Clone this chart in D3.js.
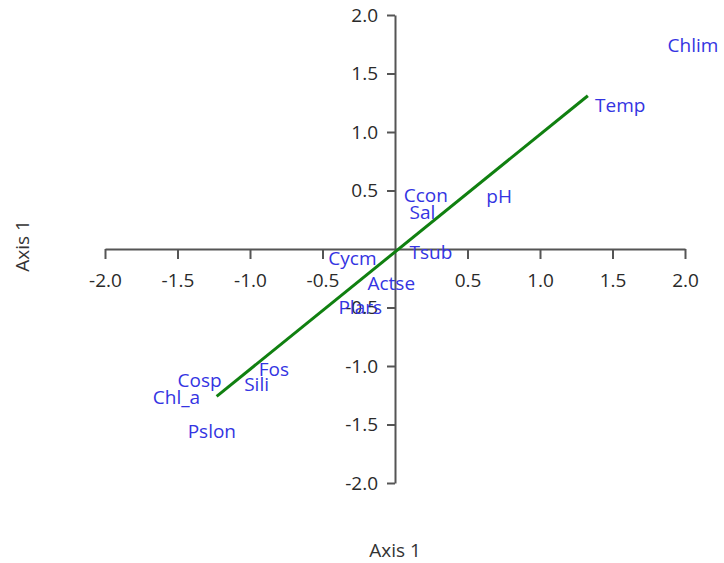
<!DOCTYPE html>
<html lang="en">
<head>
    <meta charset="UTF-8">
    <title>Biplot - Axis 1</title>
    <style>
        body { margin: 0; background: #fff; }
        .tick text { font-family: "Open Sans", sans-serif; font-size: 19px; fill: #2a2a2a; }
        .tick line, .domain { stroke: #555; stroke-width: 2px; }
        .lbl { font-family: "Open Sans", sans-serif; font-size: 19px; fill: #3434e2; }
        .title { font-family: "Open Sans", sans-serif; font-size: 19px; fill: #333; }
    </style>
</head>
<body>
    <script src="https://cdn.jsdelivr.net/npm/d3@7"></script>
    <script type="text/javascript">
        // variable labels and their positions (axis units)
        var names = ["Chlim", "Temp", "Ccon", "pH", "Sal", "Tsub", "Cycm", "Actse", "Plars", "Fos", "Cosp", "Sili", "Chl_a", "Pslon"];
        var xs = [1.88, 1.38, 0.06, 0.63, 0.10, 0.10, -0.46, -0.19, -0.39, -0.94, -1.50, -1.04, -1.67, -1.43];
        var ys = [1.74, 1.23, 0.46, 0.45, 0.31, -0.03, -0.08, -0.29, -0.50, -1.03, -1.12, -1.16, -1.27, -1.56];

        // green fitted line ends
        var lineX = [-1.23, 1.33];
        var lineY = [-1.26, 1.31];

        var ticks = [-2.0, -1.5, -1.0, -0.5, 0.5, 1.0, 1.5, 2.0];

        var w = 724;
        var h = 563;
        var svg = d3.select("body").append("svg").attr("width", w).attr("height", h);

        var x = d3.scaleLinear().domain([-2, 2]).range([105, 685]);
        var y = d3.scaleLinear().domain([-2, 2]).range([483, 15]);

        var fmt = function(d){ return d.toFixed(1); };

        // horizontal axis through origin
        svg.append("g")
            .attr("transform", "translate(0," + y(0) + ")")
            .call(d3.axisBottom(x).tickValues(ticks).tickFormat(fmt).tickSize(10).tickSizeOuter(0).tickPadding(15));

        // vertical axis through origin
        svg.append("g")
            .attr("transform", "translate(" + x(0) + ",0)")
            .call(d3.axisLeft(y).tickValues(ticks).tickFormat(fmt).tickSize(8).tickSizeOuter(0).tickPadding(9));

        svg.selectAll(".tick line").attr("stroke", "#555");

        // green line
        svg.append("line")
            .attr("x1", x(lineX[0]))
            .attr("y1", y(lineY[0]))
            .attr("x2", x(lineX[1]))
            .attr("y2", y(lineY[1]))
            .attr("stroke", "#108010")
            .attr("stroke-width", 3);

        // labels
        svg.selectAll("text.lbl")
            .data(names)
            .enter()
            .append("text")
            .attr("class", "lbl")
            .attr("x", function(d, i){ return x(xs[i]); })
            .attr("y", function(d, i){ return y(ys[i]); })
            .attr("dy", "0.35em")
            .text(function(d){ return d; });

        // axis titles
        svg.append("text")
            .attr("class", "title")
            .attr("x", x(0))
            .attr("y", 550)
            .attr("dy", "0.35em")
            .attr("text-anchor", "middle")
            .text("Axis 1");

        svg.append("text")
            .attr("class", "title")
            .attr("transform", "translate(22,246) rotate(-90)")
            .attr("dy", "0.35em")
            .attr("text-anchor", "middle")
            .text("Axis 1");
    </script>
</body>
</html>
